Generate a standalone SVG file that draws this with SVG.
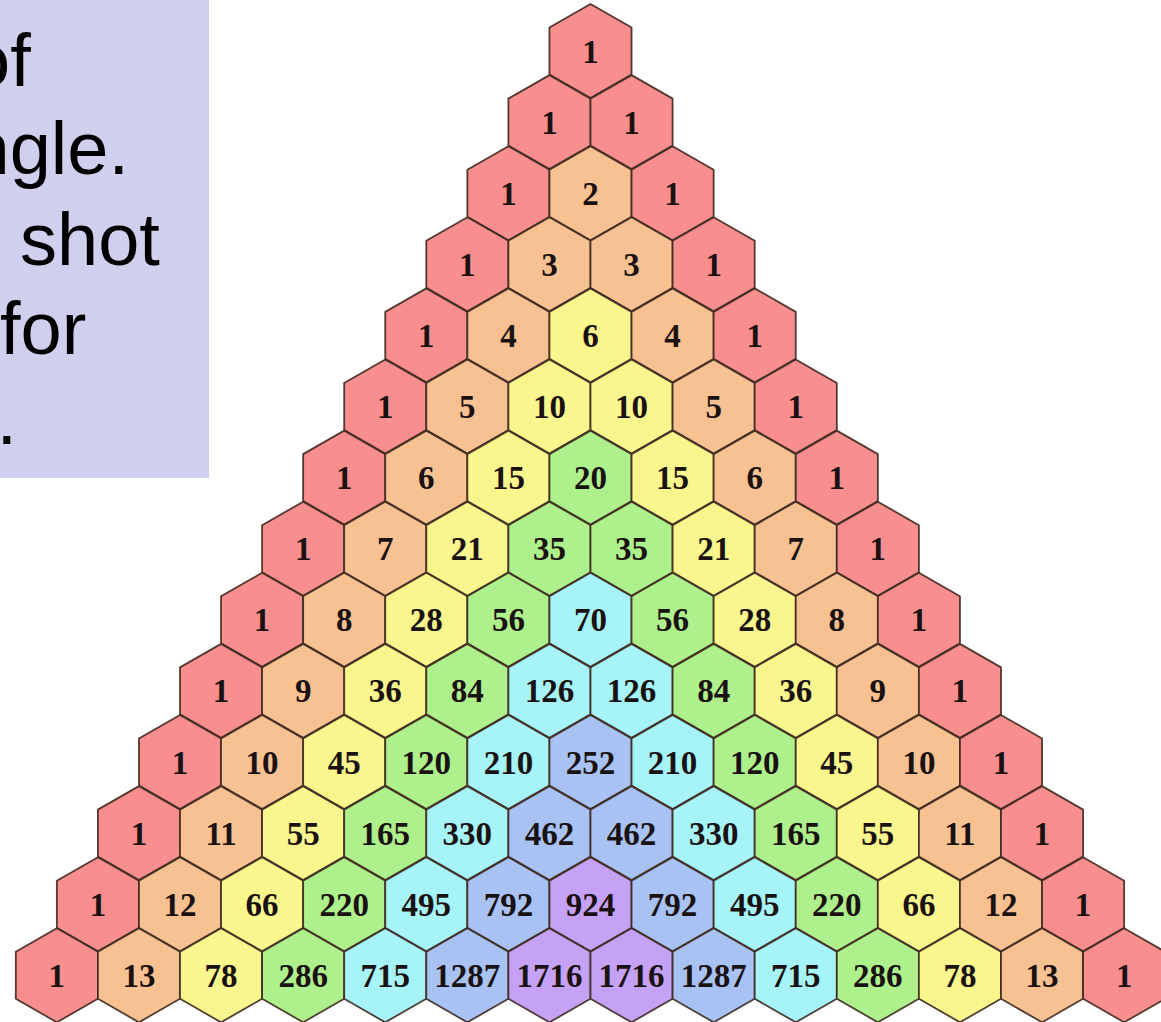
<svg xmlns="http://www.w3.org/2000/svg" xmlns:xlink="http://www.w3.org/1999/xlink" width="1161" height="1022" viewBox="0 0 1161 1022">
<style>
.panel{fill:#d0d0ee}
.pt{font-family:"Liberation Sans",Arial,sans-serif;font-size:74px;fill:#000}
.h{stroke:#3e2a20;stroke-opacity:0.9;stroke-width:1.8;stroke-linejoin:round}
.c0{fill:#f98e8e}.c1{fill:#f8c192}.c2{fill:#faf68e}.c3{fill:#aef08b}.c4{fill:#a6f4f7}.c5{fill:#a8c2f3}.c6{fill:#c6a2f6}
.v{font-family:"Liberation Serif","Times New Roman",serif;font-weight:bold;font-size:33px;fill:#1a1212;text-anchor:middle}
</style>
<defs>
<path id="hex" d="M0,-47 L41.05,-23.5 L41.05,23.5 L0,47 L-41.05,23.5 L-41.05,-23.5 Z"/>
</defs>
<rect width="1161" height="1022" fill="#ffffff"/>
<g id="panel">
<rect class="panel" x="0" y="0" width="209" height="478"/>
<text class="pt" x="-31" y="86">of</text>
<text class="pt" x="-31.5" y="174">ngle.</text>
<text class="pt" x="20" y="265">shot</text>
<text class="pt" x="0" y="354">for</text>
<text class="pt" x="-3.5" y="444">.</text>
</g>
<g id="connectors"></g>
<g id="triangle">
<g id="row0" transform="translate(590.5,51)">
<g id="n0-0"><use href="#hex" class="h c0"/><text class="v" y="11.5">1</text></g>
</g>
<g id="row1" transform="translate(549.45,122.1)">
<g id="n1-0"><use href="#hex" class="h c0"/><text class="v" y="11.5">1</text></g>
<g id="n1-1" transform="translate(82.1,0)"><use href="#hex" class="h c0"/><text class="v" y="11.5">1</text></g>
</g>
<g id="row2" transform="translate(508.4,193.2)">
<g id="n2-0"><use href="#hex" class="h c0"/><text class="v" y="11.5">1</text></g>
<g id="n2-1" transform="translate(82.1,0)"><use href="#hex" class="h c1"/><text class="v" y="11.5">2</text></g>
<g id="n2-2" transform="translate(164.2,0)"><use href="#hex" class="h c0"/><text class="v" y="11.5">1</text></g>
</g>
<g id="row3" transform="translate(467.35,264.3)">
<g id="n3-0"><use href="#hex" class="h c0"/><text class="v" y="11.5">1</text></g>
<g id="n3-1" transform="translate(82.1,0)"><use href="#hex" class="h c1"/><text class="v" y="11.5">3</text></g>
<g id="n3-2" transform="translate(164.2,0)"><use href="#hex" class="h c1"/><text class="v" y="11.5">3</text></g>
<g id="n3-3" transform="translate(246.3,0)"><use href="#hex" class="h c0"/><text class="v" y="11.5">1</text></g>
</g>
<g id="row4" transform="translate(426.3,335.4)">
<g id="n4-0"><use href="#hex" class="h c0"/><text class="v" y="11.5">1</text></g>
<g id="n4-1" transform="translate(82.1,0)"><use href="#hex" class="h c1"/><text class="v" y="11.5">4</text></g>
<g id="n4-2" transform="translate(164.2,0)"><use href="#hex" class="h c2"/><text class="v" y="11.5">6</text></g>
<g id="n4-3" transform="translate(246.3,0)"><use href="#hex" class="h c1"/><text class="v" y="11.5">4</text></g>
<g id="n4-4" transform="translate(328.4,0)"><use href="#hex" class="h c0"/><text class="v" y="11.5">1</text></g>
</g>
<g id="row5" transform="translate(385.25,406.5)">
<g id="n5-0"><use href="#hex" class="h c0"/><text class="v" y="11.5">1</text></g>
<g id="n5-1" transform="translate(82.1,0)"><use href="#hex" class="h c1"/><text class="v" y="11.5">5</text></g>
<g id="n5-2" transform="translate(164.2,0)"><use href="#hex" class="h c2"/><text class="v" y="11.5">10</text></g>
<g id="n5-3" transform="translate(246.3,0)"><use href="#hex" class="h c2"/><text class="v" y="11.5">10</text></g>
<g id="n5-4" transform="translate(328.4,0)"><use href="#hex" class="h c1"/><text class="v" y="11.5">5</text></g>
<g id="n5-5" transform="translate(410.5,0)"><use href="#hex" class="h c0"/><text class="v" y="11.5">1</text></g>
</g>
<g id="row6" transform="translate(344.2,477.6)">
<g id="n6-0"><use href="#hex" class="h c0"/><text class="v" y="11.5">1</text></g>
<g id="n6-1" transform="translate(82.1,0)"><use href="#hex" class="h c1"/><text class="v" y="11.5">6</text></g>
<g id="n6-2" transform="translate(164.2,0)"><use href="#hex" class="h c2"/><text class="v" y="11.5">15</text></g>
<g id="n6-3" transform="translate(246.3,0)"><use href="#hex" class="h c3"/><text class="v" y="11.5">20</text></g>
<g id="n6-4" transform="translate(328.4,0)"><use href="#hex" class="h c2"/><text class="v" y="11.5">15</text></g>
<g id="n6-5" transform="translate(410.5,0)"><use href="#hex" class="h c1"/><text class="v" y="11.5">6</text></g>
<g id="n6-6" transform="translate(492.6,0)"><use href="#hex" class="h c0"/><text class="v" y="11.5">1</text></g>
</g>
<g id="row7" transform="translate(303.15,548.7)">
<g id="n7-0"><use href="#hex" class="h c0"/><text class="v" y="11.5">1</text></g>
<g id="n7-1" transform="translate(82.1,0)"><use href="#hex" class="h c1"/><text class="v" y="11.5">7</text></g>
<g id="n7-2" transform="translate(164.2,0)"><use href="#hex" class="h c2"/><text class="v" y="11.5">21</text></g>
<g id="n7-3" transform="translate(246.3,0)"><use href="#hex" class="h c3"/><text class="v" y="11.5">35</text></g>
<g id="n7-4" transform="translate(328.4,0)"><use href="#hex" class="h c3"/><text class="v" y="11.5">35</text></g>
<g id="n7-5" transform="translate(410.5,0)"><use href="#hex" class="h c2"/><text class="v" y="11.5">21</text></g>
<g id="n7-6" transform="translate(492.6,0)"><use href="#hex" class="h c1"/><text class="v" y="11.5">7</text></g>
<g id="n7-7" transform="translate(574.7,0)"><use href="#hex" class="h c0"/><text class="v" y="11.5">1</text></g>
</g>
<g id="row8" transform="translate(262.1,619.8)">
<g id="n8-0"><use href="#hex" class="h c0"/><text class="v" y="11.5">1</text></g>
<g id="n8-1" transform="translate(82.1,0)"><use href="#hex" class="h c1"/><text class="v" y="11.5">8</text></g>
<g id="n8-2" transform="translate(164.2,0)"><use href="#hex" class="h c2"/><text class="v" y="11.5">28</text></g>
<g id="n8-3" transform="translate(246.3,0)"><use href="#hex" class="h c3"/><text class="v" y="11.5">56</text></g>
<g id="n8-4" transform="translate(328.4,0)"><use href="#hex" class="h c4"/><text class="v" y="11.5">70</text></g>
<g id="n8-5" transform="translate(410.5,0)"><use href="#hex" class="h c3"/><text class="v" y="11.5">56</text></g>
<g id="n8-6" transform="translate(492.6,0)"><use href="#hex" class="h c2"/><text class="v" y="11.5">28</text></g>
<g id="n8-7" transform="translate(574.7,0)"><use href="#hex" class="h c1"/><text class="v" y="11.5">8</text></g>
<g id="n8-8" transform="translate(656.8,0)"><use href="#hex" class="h c0"/><text class="v" y="11.5">1</text></g>
</g>
<g id="row9" transform="translate(221.05,690.9)">
<g id="n9-0"><use href="#hex" class="h c0"/><text class="v" y="11.5">1</text></g>
<g id="n9-1" transform="translate(82.1,0)"><use href="#hex" class="h c1"/><text class="v" y="11.5">9</text></g>
<g id="n9-2" transform="translate(164.2,0)"><use href="#hex" class="h c2"/><text class="v" y="11.5">36</text></g>
<g id="n9-3" transform="translate(246.3,0)"><use href="#hex" class="h c3"/><text class="v" y="11.5">84</text></g>
<g id="n9-4" transform="translate(328.4,0)"><use href="#hex" class="h c4"/><text class="v" y="11.5">126</text></g>
<g id="n9-5" transform="translate(410.5,0)"><use href="#hex" class="h c4"/><text class="v" y="11.5">126</text></g>
<g id="n9-6" transform="translate(492.6,0)"><use href="#hex" class="h c3"/><text class="v" y="11.5">84</text></g>
<g id="n9-7" transform="translate(574.7,0)"><use href="#hex" class="h c2"/><text class="v" y="11.5">36</text></g>
<g id="n9-8" transform="translate(656.8,0)"><use href="#hex" class="h c1"/><text class="v" y="11.5">9</text></g>
<g id="n9-9" transform="translate(738.9,0)"><use href="#hex" class="h c0"/><text class="v" y="11.5">1</text></g>
</g>
<g id="row10" transform="translate(180,762)">
<g id="n10-0"><use href="#hex" class="h c0"/><text class="v" y="11.5">1</text></g>
<g id="n10-1" transform="translate(82.1,0)"><use href="#hex" class="h c1"/><text class="v" y="11.5">10</text></g>
<g id="n10-2" transform="translate(164.2,0)"><use href="#hex" class="h c2"/><text class="v" y="11.5">45</text></g>
<g id="n10-3" transform="translate(246.3,0)"><use href="#hex" class="h c3"/><text class="v" y="11.5">120</text></g>
<g id="n10-4" transform="translate(328.4,0)"><use href="#hex" class="h c4"/><text class="v" y="11.5">210</text></g>
<g id="n10-5" transform="translate(410.5,0)"><use href="#hex" class="h c5"/><text class="v" y="11.5">252</text></g>
<g id="n10-6" transform="translate(492.6,0)"><use href="#hex" class="h c4"/><text class="v" y="11.5">210</text></g>
<g id="n10-7" transform="translate(574.7,0)"><use href="#hex" class="h c3"/><text class="v" y="11.5">120</text></g>
<g id="n10-8" transform="translate(656.8,0)"><use href="#hex" class="h c2"/><text class="v" y="11.5">45</text></g>
<g id="n10-9" transform="translate(738.9,0)"><use href="#hex" class="h c1"/><text class="v" y="11.5">10</text></g>
<g id="n10-10" transform="translate(821,0)"><use href="#hex" class="h c0"/><text class="v" y="11.5">1</text></g>
</g>
<g id="row11" transform="translate(138.95,833.1)">
<g id="n11-0"><use href="#hex" class="h c0"/><text class="v" y="11.5">1</text></g>
<g id="n11-1" transform="translate(82.1,0)"><use href="#hex" class="h c1"/><text class="v" y="11.5">11</text></g>
<g id="n11-2" transform="translate(164.2,0)"><use href="#hex" class="h c2"/><text class="v" y="11.5">55</text></g>
<g id="n11-3" transform="translate(246.3,0)"><use href="#hex" class="h c3"/><text class="v" y="11.5">165</text></g>
<g id="n11-4" transform="translate(328.4,0)"><use href="#hex" class="h c4"/><text class="v" y="11.5">330</text></g>
<g id="n11-5" transform="translate(410.5,0)"><use href="#hex" class="h c5"/><text class="v" y="11.5">462</text></g>
<g id="n11-6" transform="translate(492.6,0)"><use href="#hex" class="h c5"/><text class="v" y="11.5">462</text></g>
<g id="n11-7" transform="translate(574.7,0)"><use href="#hex" class="h c4"/><text class="v" y="11.5">330</text></g>
<g id="n11-8" transform="translate(656.8,0)"><use href="#hex" class="h c3"/><text class="v" y="11.5">165</text></g>
<g id="n11-9" transform="translate(738.9,0)"><use href="#hex" class="h c2"/><text class="v" y="11.5">55</text></g>
<g id="n11-10" transform="translate(821,0)"><use href="#hex" class="h c1"/><text class="v" y="11.5">11</text></g>
<g id="n11-11" transform="translate(903.1,0)"><use href="#hex" class="h c0"/><text class="v" y="11.5">1</text></g>
</g>
<g id="row12" transform="translate(97.9,904.2)">
<g id="n12-0"><use href="#hex" class="h c0"/><text class="v" y="11.5">1</text></g>
<g id="n12-1" transform="translate(82.1,0)"><use href="#hex" class="h c1"/><text class="v" y="11.5">12</text></g>
<g id="n12-2" transform="translate(164.2,0)"><use href="#hex" class="h c2"/><text class="v" y="11.5">66</text></g>
<g id="n12-3" transform="translate(246.3,0)"><use href="#hex" class="h c3"/><text class="v" y="11.5">220</text></g>
<g id="n12-4" transform="translate(328.4,0)"><use href="#hex" class="h c4"/><text class="v" y="11.5">495</text></g>
<g id="n12-5" transform="translate(410.5,0)"><use href="#hex" class="h c5"/><text class="v" y="11.5">792</text></g>
<g id="n12-6" transform="translate(492.6,0)"><use href="#hex" class="h c6"/><text class="v" y="11.5">924</text></g>
<g id="n12-7" transform="translate(574.7,0)"><use href="#hex" class="h c5"/><text class="v" y="11.5">792</text></g>
<g id="n12-8" transform="translate(656.8,0)"><use href="#hex" class="h c4"/><text class="v" y="11.5">495</text></g>
<g id="n12-9" transform="translate(738.9,0)"><use href="#hex" class="h c3"/><text class="v" y="11.5">220</text></g>
<g id="n12-10" transform="translate(821,0)"><use href="#hex" class="h c2"/><text class="v" y="11.5">66</text></g>
<g id="n12-11" transform="translate(903.1,0)"><use href="#hex" class="h c1"/><text class="v" y="11.5">12</text></g>
<g id="n12-12" transform="translate(985.2,0)"><use href="#hex" class="h c0"/><text class="v" y="11.5">1</text></g>
</g>
<g id="row13" transform="translate(56.85,975.3)">
<g id="n13-0"><use href="#hex" class="h c0"/><text class="v" y="11.5">1</text></g>
<g id="n13-1" transform="translate(82.1,0)"><use href="#hex" class="h c1"/><text class="v" y="11.5">13</text></g>
<g id="n13-2" transform="translate(164.2,0)"><use href="#hex" class="h c2"/><text class="v" y="11.5">78</text></g>
<g id="n13-3" transform="translate(246.3,0)"><use href="#hex" class="h c3"/><text class="v" y="11.5">286</text></g>
<g id="n13-4" transform="translate(328.4,0)"><use href="#hex" class="h c4"/><text class="v" y="11.5">715</text></g>
<g id="n13-5" transform="translate(410.5,0)"><use href="#hex" class="h c5"/><text class="v" y="11.5">1287</text></g>
<g id="n13-6" transform="translate(492.6,0)"><use href="#hex" class="h c6"/><text class="v" y="11.5">1716</text></g>
<g id="n13-7" transform="translate(574.7,0)"><use href="#hex" class="h c6"/><text class="v" y="11.5">1716</text></g>
<g id="n13-8" transform="translate(656.8,0)"><use href="#hex" class="h c5"/><text class="v" y="11.5">1287</text></g>
<g id="n13-9" transform="translate(738.9,0)"><use href="#hex" class="h c4"/><text class="v" y="11.5">715</text></g>
<g id="n13-10" transform="translate(821,0)"><use href="#hex" class="h c3"/><text class="v" y="11.5">286</text></g>
<g id="n13-11" transform="translate(903.1,0)"><use href="#hex" class="h c2"/><text class="v" y="11.5">78</text></g>
<g id="n13-12" transform="translate(985.2,0)"><use href="#hex" class="h c1"/><text class="v" y="11.5">13</text></g>
<g id="n13-13" transform="translate(1067.3,0)"><use href="#hex" class="h c0"/><text class="v" y="11.5">1</text></g>
</g>
</g>
</svg>
